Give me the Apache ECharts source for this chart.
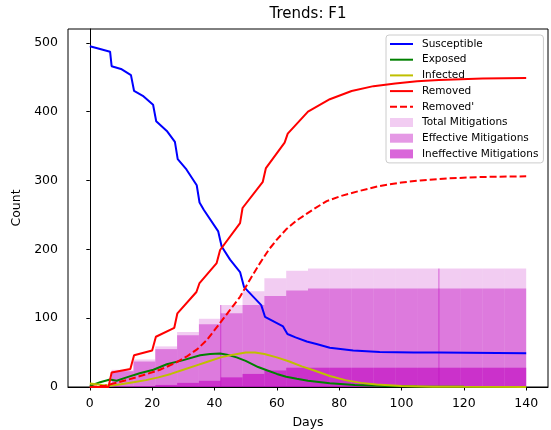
<!DOCTYPE html>
<html>
<head>
<meta charset="utf-8">
<script src="https://cdn.jsdelivr.net/npm/echarts@6/dist/echarts.min.js"></script>
<style>html,body{margin:0;padding:0;background:#fff}#c{width:551px;height:430px}</style>
</head>
<body>
<div id="c"></div>
<script>
// ---- data ----
const xTicks = [0, 20, 40, 60, 80, 100, 120, 140];
const yTicks = [0, 100, 200, 300, 400, 500];

const susDays = [0, 3.3, 6.5, 7, 10, 13.2, 14.2, 17, 20.3, 21.3, 24.7, 27.3, 28.2, 31, 34.3, 35.2, 36.6, 41.2, 42.3, 45, 48.2, 49.5, 55, 56.2, 62, 63.4, 66, 69.6, 73, 77, 84.5, 93, 104, 112, 140];
const susVals = [495, 491, 487, 466, 462, 453, 430, 423, 410, 386, 372, 356, 331, 316, 293, 268, 257, 226, 204, 185, 167, 145, 119, 102, 88, 77, 72, 66, 62, 57, 53, 51, 50, 50, 49];

const expDays = [0, 3.3, 6.5, 8.6, 11.8, 16, 20.4, 24.7, 30, 35.4, 38.6, 41.8, 44, 47.1, 50, 54, 57, 60, 63, 66.4, 70, 77, 85, 95, 105, 120, 140];
const expVals = [1.5, 7, 11, 9, 14, 20, 25, 33, 39, 46, 48, 48.5, 47, 43, 38, 29, 24, 19, 15, 12, 9, 5.4, 3, 1.5, 0.7, 0.2, 0];

const infDays = [0, 4, 7, 10, 14, 18, 22, 26, 30, 34, 38, 42, 46, 50, 53, 56, 60, 64, 68, 72, 77, 82, 87, 92, 100, 110, 120, 140];
const infVals = [5, 3, 2, 4, 7, 10, 14, 19, 25, 31, 37, 43, 47, 50, 50, 48, 43, 37, 30, 24, 16, 10, 6, 3.5, 1.5, 0.5, 0.2, 0];

const remDays = [0, 6, 7, 13, 14.2, 20, 21.2, 27.1, 28.1, 34.2, 35.2, 40.7, 41.8, 48.2, 49, 55.5, 56.5, 62.5, 63.5, 70, 77, 84, 91, 98, 105, 112, 126, 140];
const remVals = [0, 0, 21, 26, 46, 53, 73, 86, 107, 138, 151, 180, 199, 238, 260, 298, 318, 355, 368, 400, 418, 430, 437, 441, 444, 446, 448, 449];

const rem2Days = [0, 5, 11.8, 17, 22.5, 27, 31, 34.5, 37.5, 41.8, 45, 48.2, 51.5, 54.6, 57.5, 60, 63, 66.4, 71.7, 76, 81, 86.7, 93, 100, 106, 115, 125, 140];
const rem2Vals = [0, 2, 10, 17, 25, 34, 44, 55, 68, 93, 112, 131, 157, 180, 200, 214, 229, 242, 258, 270, 278, 285, 292, 297, 300, 303, 305, 306];

// weekly mitigation bins [start, end)
const binStart = [7, 14, 21, 28, 35, 42, 49, 56, 63, 70, 77, 84, 91, 98, 105, 112, 119, 126, 133];
const binEnd   = [14, 21, 28, 35, 42, 49, 56, 63, 70, 77, 84, 91, 98, 105, 112, 119, 126, 133, 140];
const totalMit = [25, 40, 59, 80, 99, 119, 139, 158, 169, 172, 172, 172, 172, 172, 172, 172, 172, 172, 172];
const effMit   = [23, 37, 55, 75, 91, 107, 119, 132, 140, 143, 143, 143, 143, 143, 143, 143, 143, 143, 143];
const ineffMit = [0.5, 1, 3, 6, 9, 14, 19, 24, 28, 28, 28, 28, 28, 28, 28, 28, 28, 28, 28];
const markerDays = [42, 112];

// ---- build ----
const zip = (a, b) => a.map((v, i) => [v, b[i]]);
const bins = vals => binStart.map((s, i) => [s, binEnd[i], vals[i]]);
const FONT = 'DejaVu Sans';
const MAG = '191,0,191';

function barRender(color) {
  return function (params, api) {
    const p0 = api.coord([api.value(0), api.value(2)]);
    const p1 = api.coord([api.value(1), 0]);
    return { type: 'rect', shape: { x: p0[0], y: p0[1], width: p1[0] - p0[0], height: p1[1] - p0[1] }, style: { fill: color } };
  };
}
const markerData = markerDays.map(d => {
  const i = binStart.indexOf(d);
  return [d, totalMit[i]];
});

const lineSeries = (name, data, color, dashed) => ({
  name, type: 'line', data, symbol: 'none', showSymbol: false, z: 5,
  lineStyle: { color, width: 2, type: dashed ? [7, 3] : 'solid' },
  itemStyle: { color }
});
const lineLegend = name => ({ name, itemStyle: { opacity: 0 } });

const chart = echarts.init(document.getElementById('c'), null, { renderer: 'canvas' });
chart.setOption({
  animation: false,
  backgroundColor: '#fff',
  title: {
    text: 'Trends: F1', left: 308, top: 7, textAlign: 'center', padding: 0,
    textStyle: { fontFamily: FONT, fontSize: 15, fontWeight: 'normal', color: '#000' }
  },
  grid: { left: 68, right: 3, top: 29, bottom: 43, show: true, borderColor: '#000', borderWidth: 1, containLabel: false, outerBoundsMode: 'none' },
  xAxis: {
    type: 'value', min: -7, max: 147,
    name: 'Days', nameLocation: 'middle', nameGap: 29,
    nameTextStyle: { fontFamily: FONT, fontSize: 12.5, color: '#000' },
    axisLine: { show: true, lineStyle: { color: '#000', width: 1 } },
    axisTick: { show: true, customValues: xTicks, length: 3.5, lineStyle: { color: '#000' } },
    axisLabel: { customValues: xTicks, fontFamily: FONT, fontSize: 12.5, color: '#000', margin: 10 },
    splitLine: { show: false }
  },
  yAxis: {
    type: 'value', min: 0, max: 520,
    name: 'Count', nameLocation: 'middle', nameGap: 39,
    nameTextStyle: { fontFamily: FONT, fontSize: 12.5, color: '#000' },
    axisLine: { show: true, lineStyle: { color: '#000', width: 1 } },
    axisTick: { show: true, customValues: yTicks, length: 3.5, lineStyle: { color: '#000' } },
    axisLabel: { customValues: yTicks, fontFamily: FONT, fontSize: 12.5, color: '#000', margin: 10 },
    splitLine: { show: false }
  },
  legend: {
    orient: 'vertical', left: 386, top: 35,
    padding: [3, 5, 3, 3], itemGap: 3.7, itemWidth: 23, itemHeight: 9,
    backgroundColor: 'rgba(255,255,255,0.8)', borderColor: '#cccccc', borderWidth: 1, borderRadius: 3,
    textStyle: { fontFamily: FONT, fontSize: 10.5, color: '#000', lineHeight: 12, padding: [0, 0, 0, 4] },
    data: [
      lineLegend('Susceptible'), lineLegend('Exposed'), lineLegend('Infected'), lineLegend('Removed'), lineLegend("Removed'"),
      { name: 'Total Mitigations', icon: 'rect' },
      { name: 'Effective Mitigations', icon: 'rect' },
      { name: 'Ineffective Mitigations', icon: 'rect' }
    ]
  },
  series: [
    { name: 'Total Mitigations', type: 'custom', renderItem: barRender('rgba(' + MAG + ',0.2)'), data: bins(totalMit), encode: { x: [0, 1], y: 2 }, itemStyle: { color: 'rgba(' + MAG + ',0.2)' }, z: 1 },
    { name: 'Effective Mitigations', type: 'custom', renderItem: barRender('rgba(' + MAG + ',0.4)'), data: bins(effMit), encode: { x: [0, 1], y: 2 }, itemStyle: { color: 'rgba(' + MAG + ',0.4)' }, z: 2 },
    { name: 'Ineffective Mitigations', type: 'custom', renderItem: barRender('rgba(' + MAG + ',0.6)'), data: bins(ineffMit), encode: { x: [0, 1], y: 2 }, itemStyle: { color: 'rgba(' + MAG + ',0.6)' }, z: 3 },
    {
      type: 'custom', z: 4, silent: true,
      renderItem: function (params, api) {
        const a = api.coord([api.value(0), 0]);
        const b = api.coord([api.value(0), api.value(1)]);
        return { type: 'line', shape: { x1: a[0], y1: a[1], x2: b[0], y2: b[1] }, style: { stroke: 'rgba(' + MAG + ',0.55)', lineWidth: 1 } };
      },
      data: markerData, encode: { x: 0, y: 1 }
    },
    lineSeries('Susceptible', zip(susDays, susVals), '#0000ff'),
    lineSeries('Exposed', zip(expDays, expVals), '#008000'),
    lineSeries('Infected', zip(infDays, infVals), '#bfbf00'),
    lineSeries('Removed', zip(remDays, remVals), '#ff0000'),
    lineSeries("Removed'", zip(rem2Days, rem2Vals), '#ff0000', true)
  ]
});
</script>
</body>
</html>
